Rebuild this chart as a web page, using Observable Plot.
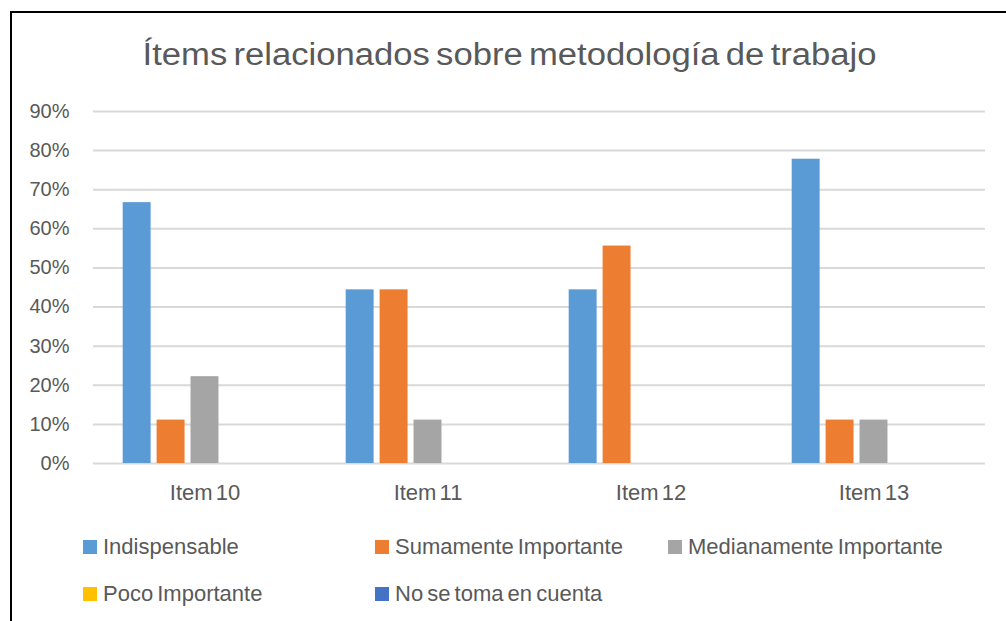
<!DOCTYPE html>
<html>
<head>
<meta charset="utf-8">
<script src="https://cdn.jsdelivr.net/npm/d3@7"></script>
<script src="https://cdn.jsdelivr.net/npm/@observablehq/plot@0.6"></script>
<style>
  html, body { margin: 0; padding: 0; width: 1006px; height: 621px; overflow: hidden; background: #fff; }
  body { position: relative; font-family: "Liberation Sans", Arial, sans-serif; color: #595959; }
  #frame { position: absolute; left: 10px; top: 11px; width: 1000px; height: 700px; border: 2px solid #000; box-sizing: border-box; }
  #title { position: absolute; left: 0; width: 1020px; top: 39px; text-align: center; font-size: 31px; line-height: 31px; white-space: nowrap; }
  #title span { display: inline-block; transform-origin: 50% 50%; word-spacing: -3px; }
  #chart { position: absolute; left: 0; top: 0; }
  #chart svg text { word-spacing: -3px; }
  #legend { position: absolute; left: 83px; top: 536px; display: grid; grid-template-columns: 292px 293px auto; row-gap: 25px; font-size: 22px; line-height: 22px; }
  .item { display: flex; align-items: center; white-space: nowrap; word-spacing: -2px; }
  .sw { width: 14px; height: 14px; margin-right: 6px; flex: none; }
</style>
</head>
<body>
<div id="frame"></div>
<div id="title"><span>Ítems relacionados sobre metodología de trabajo</span></div>
<div id="chart"></div>
<div id="legend"></div>
<script>
const items = ["Item 10", "Item 11", "Item 12", "Item 13"];
const series = ["Indispensable", "Sumamente Importante", "Medianamente Importante", "Poco Importante", "No se toma en cuenta"];
const colors = ["#5B9BD5", "#ED7D31", "#A5A5A5", "#FFC000", "#4472C4"];
const indispensable = [0.667, 0.444, 0.444, 0.778];
const sumamente = [0.111, 0.444, 0.556, 0.111];
const medianamente = [0.222, 0.111, 0, 0.111];
const poco = [0, 0, 0, 0];
const noSeToma = [0, 0, 0, 0];
const yTicks = [0, 0.1, 0.2, 0.3, 0.4, 0.5, 0.6, 0.7, 0.8, 0.9];

const valuesBySeries = [indispensable, sumamente, medianamente, poco, noSeToma];
const data = [];
items.forEach((item, i) => {
  series.forEach((s, j) => {
    data.push({item, serie: s, value: valuesBySeries[j][i]});
  });
});

const chart = Plot.plot({
  width: 1006,
  height: 530,
  marginTop: 111,
  marginBottom: 67,
  marginLeft: 92,
  marginRight: 20,
  style: {fontFamily: "'Liberation Sans', Arial, sans-serif", color: "#595959", background: "transparent", overflow: "visible"},
  fx: {domain: items, padding: 0, label: null, axis: null},
  x: {domain: series, paddingInner: 6 / 34, paddingOuter: 0.875, round: false, axis: null},
  y: {domain: [0, 0.9], axis: null},
  color: {domain: series, range: colors},
  marks: [
    Plot.ruleY(yTicks, {stroke: "#d9d9d9", strokeWidth: 2}),
    Plot.barY(data, {fx: "item", x: "serie", y: "value", fill: "serie"}),
    Plot.axisY(yTicks, {tickFormat: d3.format(".0%"), tickSize: 0, tickPadding: 24, fontSize: 20, label: null}),
    Plot.axisFx({anchor: "bottom", tickSize: 0, tickPadding: 21, fontSize: 22, label: null})
  ]
});
document.getElementById("chart").appendChild(chart);

const legend = document.getElementById("legend");
series.forEach((s, j) => {
  const div = document.createElement("div");
  div.className = "item";
  const sw = document.createElement("span");
  sw.className = "sw";
  sw.style.background = colors[j];
  const t = document.createElement("span");
  t.textContent = s;
  div.appendChild(sw);
  div.appendChild(t);
  legend.appendChild(div);
});

const span = document.querySelector("#title span");
const w = span.getBoundingClientRect().width;
span.style.transform = `scaleX(${734 / w})`;
</script>
</body>
</html>
